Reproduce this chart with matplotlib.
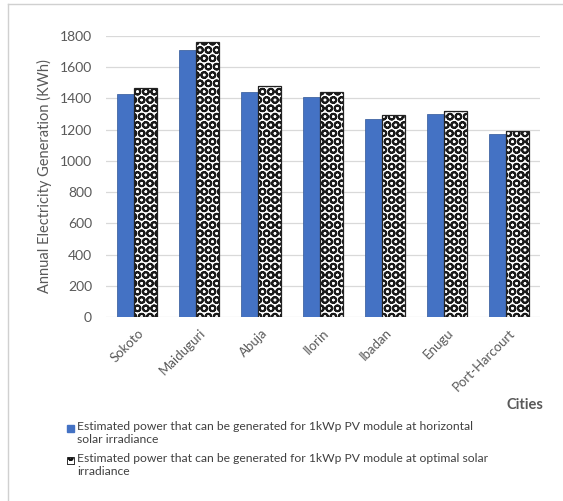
import numpy as np
import matplotlib
matplotlib.use("Agg")
from matplotlib import pyplot as plt
from matplotlib.patches import Rectangle
from matplotlib.lines import Line2D

plt.rcParams["font.family"] = ["Lato", "DejaVu Sans"]
plt.rcParams["hatch.linewidth"] = 1.4

cities = ["Sokoto", "Maiduguri", "Abuja", "Ilorin", "Ibadan", "Enugu", "Port-Harcourt"]
horizontal = [1430, 1710, 1440, 1410, 1270, 1300, 1170]
optimal = [1465, 1760, 1480, 1440, 1295, 1320, 1190]
yticks = [0, 200, 400, 600, 800, 1000, 1200, 1400, 1600, 1800]

label_h = "Estimated power that can be generated for 1kWp PV module at horizontal\nsolar irradiance"
label_o = "Estimated power that can be generated for 1kWp PV module at optimal solar\nirradiance"

blue = "#4472c4"
grey_txt = "#595959"

fig = plt.figure(figsize=(5.63, 5.01), dpi=100)
ax = fig.add_axes([106 / 563, 1 - 317 / 501, 434 / 563, 281 / 501])

x = np.arange(len(cities))

ax.bar(x - 0.185, horizontal, width=0.27, color=blue, edgecolor="#2f5597", linewidth=0.5, zorder=3)
# hatched series: black rings on white, then a dark outline
ax.bar(x + 0.135, optimal, width=0.37, color="white", edgecolor="#1a1a1a", hatch="OO", linewidth=0, zorder=3)
ax.bar(x + 0.135, optimal, width=0.37, fill=False, edgecolor="#222222", linewidth=0.9, zorder=4)

ax.set_ylim(0, 1800)
ax.set_xlim(-0.5, len(cities) - 0.5)
ax.set_yticks(yticks)
ax.set_xticks(x)
ax.set_xticklabels(cities, rotation=45, ha="right", va="top", rotation_mode="anchor", color=grey_txt, fontsize=9.5)
ax.tick_params(axis="y", labelsize=10, colors=grey_txt, length=0, pad=10)
ax.tick_params(axis="x", length=0, pad=7)
ax.grid(axis="y", color="#d9d9d9", linewidth=0.9, zorder=0)
for s in ax.spines.values():
    s.set_visible(False)

ax.set_ylabel("Annual Electricity Generation (KWh)", fontsize=10.5, color=grey_txt, labelpad=6)

fig.text(543 / 563, 1 - 405 / 501, "Cities", fontsize=10.5, fontweight="bold", color=grey_txt,
         ha="right", va="center")

# legend drawn by hand so the wrapped labels keep their spacing
H, W = 501, 563
fig.add_artist(Rectangle((67 / W, 1 - 432 / H), 7 / W, 7 / H, transform=fig.transFigure,
                         facecolor=blue, edgecolor=blue))
fig.add_artist(Rectangle((67 / W, 1 - 464 / H), 7 / W, 7 / H, transform=fig.transFigure,
                         facecolor="white", edgecolor="#111111", hatch="oo", linewidth=0.6))
fig.text(77 / W, 1 - 421 / H, label_h, fontsize=8.7, color="#404040", va="top", ha="left", linespacing=1.25)
fig.text(77 / W, 1 - 453 / H, label_o, fontsize=8.7, color="#404040", va="top", ha="left", linespacing=1.25)

# thin chart border at top and left
fig.add_artist(Line2D([8 / W, 1], [1 - 4 / H, 1 - 4 / H], color="#d0d0d0", linewidth=1))
fig.add_artist(Line2D([8 / W, 8 / W], [0, 1 - 4 / H], color="#d0d0d0", linewidth=1))

fig.savefig("out.png", dpi=100)
